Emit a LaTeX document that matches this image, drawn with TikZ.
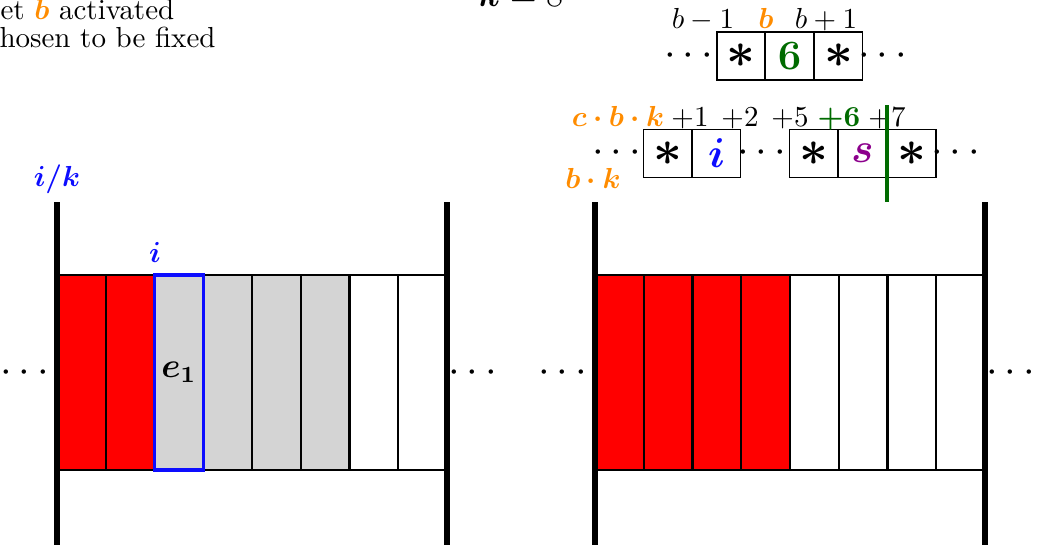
\documentclass[tikz,border=0pt]{standalone}
\usepackage{amsmath,bm}
\definecolor{myorange}{rgb}{1,0.55,0}
\definecolor{mygreen}{rgb}{0,0.42,0}
\definecolor{mypurple}{rgb}{0.55,0,0.55}
\definecolor{mygray}{rgb}{0.83,0.83,0.83}
\definecolor{myblue}{rgb}{0.05,0.05,1}
\begin{document}
\begin{tikzpicture}[x=0.345pt,y=-0.345pt,
  bcell/.style={draw=black,line width=0.8pt,minimum width=16.82pt,minimum height=67.28pt,inner sep=0pt,outer sep=0pt},
  acell/.style={draw=black,line width=0.5pt,minimum width=16.7pt,minimum height=16.7pt,inner sep=0pt,outer sep=0pt,font=\Large},
  star/.style={font=\fontsize{16}{19}\selectfont},
  bar/.style={line width=2.1pt},
  dotsnode/.style={inner sep=0pt,font=\fontsize{15}{18}\selectfont},
  lab/.style={anchor=base,inner sep=0pt}]
\useasboundingbox (0,0) rectangle (1037,544);
\clip (0,0) rectangle (1037,544);

% top-left text (cropped)
\node[anchor=base west,inner sep=0pt] (t1) at (0,19) {et \textcolor{myorange}{$\bm{b}$} activated};
\node[anchor=base west,inner sep=0pt] (t2) at (-1,47) {hosen to be fixed};
\node[anchor=base,inner sep=0pt,font=\large] (kval) at (521,6) {$\bm{k}=8$};

% left block
\foreach \j in {1,...,8}{
  \node[bcell] (L\j) at ({57+48.75*(\j-0.5)},372.5) {};
}
\foreach \j in {1,2}{\node[bcell,fill=red] at (L\j) {};}
\foreach \j in {4,5,6}{\node[bcell,fill=mygray] at (L\j) {};}
\node[bcell,fill=mygray,draw=myblue,line width=1.1pt,font=\large] (E1) at (L3) {$\bm{e_1}$};
\coordinate (LAt) at (57,202);  \coordinate (LAb) at (57,560);
\coordinate (LBt) at (447,202); \coordinate (LBb) at (447,560);
\draw[bar] (LAt) -- (LAb);
\draw[bar] (LBt) -- (LBb);
\node[lab,text=myblue] (ik) at (57,186) {$\bm{i/k}$};
\node[lab,text=myblue] (ilab) at (155,262) {$\bm{i}$};

% right block
\foreach \j in {1,...,8}{
  \node[bcell] (R\j) at ({595+48.75*(\j-0.5)},372.5) {};
}
\foreach \j in {1,...,4}{\node[bcell,fill=red] at (R\j) {};}
\coordinate (RAt) at (595,202); \coordinate (RAb) at (595,560);
\coordinate (RBt) at (985,202); \coordinate (RBb) at (985,560);
\draw[bar] (RAt) -- (RAb);
\draw[bar] (RBt) -- (RBb);

% dots between blocks
\node[dotsnode] (d1) at (28,373) {$\cdots$};
\node[dotsnode] (d2) at (476,373) {$\cdots$};
\node[dotsnode] (d3) at (566,373) {$\cdots$};
\node[dotsnode] (d4) at (1014,373) {$\cdots$};

% top array
\node[acell,star] (T1) at (741,56) {$\bm{\ast}$};
\node[acell] (T2) at (789.5,56) {\textcolor{mygreen}{$\bm{6}$}};
\node[acell,star] (T3) at (838.5,56) {$\bm{\ast}$};
\node[dotsnode] (td1) at (692,56) {$\cdots$};
\node[dotsnode] (td2) at (886,56) {$\cdots$};
\node[lab] (bm1) at (703,28) {$b-1$};
\node[lab,text=myorange] (bb) at (766,28) {$\bm{b}$};
\node[lab] (bp1) at (826,28) {$b+1$};

% second array
\node[acell,star] (S1) at (667.5,153.5) {$\bm{\ast}$};
\node[acell] (S2) at (716.5,153.5) {\textcolor{myblue}{$\bm{i}$}};
\node[acell,star] (S3) at (813.5,153.5) {$\bm{\ast}$};
\node[acell] (S4) at (862.5,153.5) {\textcolor{mypurple}{$\bm{s}$}};
\node[acell,star] (S5) at (912,153.5) {$\bm{\ast}$};
\node[dotsnode] (sd1) at (620,153) {$\cdots$};
\node[dotsnode] (sd2) at (765,153) {$\cdots$};
\node[dotsnode] (sd3) at (959,153) {$\cdots$};
\node[lab,text=myorange] (cbk) at (618,126) {$\bm{c\cdot b\cdot k}$};
\node[lab] (p1) at (690,126) {$+1$};
\node[lab] (p2) at (740,126) {$+2$};
\node[lab] (p5) at (790,126) {$+5$};
\node[lab,text=mygreen] (p6) at (839,126) {$\bm{+6}$};
\node[lab] (p7) at (887,126) {$+7$};
\node[lab,text=myorange] (bk) at (593,188) {$\bm{b\cdot k}$};
\coordinate (gt) at (887,105);
\coordinate (gb) at (887,202);
\draw[mygreen,line width=1.2pt] (gt) -- (gb);
\end{tikzpicture}
\end{document}
